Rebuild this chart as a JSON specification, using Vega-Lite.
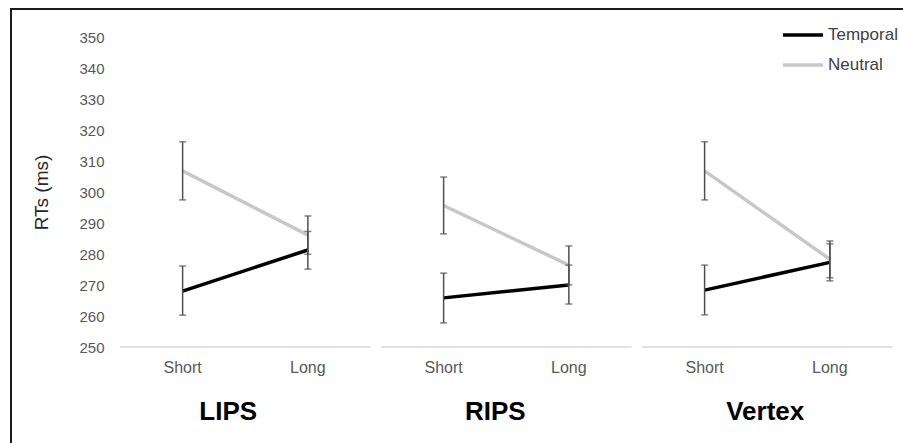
{
  "$schema": "https://vega.github.io/schema/vega-lite/v6.json",
  "autosize": "none",
  "padding": {"left": 11, "top": 9, "right": -2, "bottom": -2},
  "width": 894,
  "height": 436,
  "config": {
    "font": "Liberation Sans",
    "view": {"stroke": "#1a1a1a", "strokeWidth": 2}
  },
  "data": {
    "values": [
      {"site": "LIPS", "interval": "Short", "condition": "Temporal", "rt": 268.1, "lo": 260.3, "hi": 276.2},
      {"site": "LIPS", "interval": "Short", "condition": "Neutral", "rt": 307.0, "lo": 297.6, "hi": 316.4},
      {"site": "LIPS", "interval": "Long", "condition": "Temporal", "rt": 281.4, "lo": 275.2, "hi": 287.4},
      {"site": "LIPS", "interval": "Long", "condition": "Neutral", "rt": 286.2, "lo": 280.0, "hi": 292.4},
      {"site": "RIPS", "interval": "Short", "condition": "Temporal", "rt": 265.9, "lo": 257.8, "hi": 273.9},
      {"site": "RIPS", "interval": "Short", "condition": "Neutral", "rt": 295.8, "lo": 286.6, "hi": 305.0},
      {"site": "RIPS", "interval": "Long", "condition": "Temporal", "rt": 270.1, "lo": 263.9, "hi": 276.5},
      {"site": "RIPS", "interval": "Long", "condition": "Neutral", "rt": 276.5, "lo": 270.1, "hi": 282.7},
      {"site": "Vertex", "interval": "Short", "condition": "Temporal", "rt": 268.4, "lo": 260.4, "hi": 276.5},
      {"site": "Vertex", "interval": "Short", "condition": "Neutral", "rt": 307.0, "lo": 297.6, "hi": 316.4},
      {"site": "Vertex", "interval": "Long", "condition": "Temporal", "rt": 277.4, "lo": 271.4, "hi": 283.4},
      {"site": "Vertex", "interval": "Long", "condition": "Neutral", "rt": 278.4, "lo": 272.4, "hi": 284.3}
    ]
  },
  "encoding": {
    "x": {
      "field": "site",
      "type": "nominal",
      "scale": {"domain": ["LIPS", "RIPS", "Vertex"], "paddingInner": 0.0402, "paddingOuter": 0.23275, "align": 0.8971, "round": false},
      "axis": {
        "title": null,
        "domain": false,
        "ticks": false,
        "tickSize": 0,
        "offset": -98,
        "labelPadding": 64.7,
        "labelBaseline": "middle",
        "labelAngle": 0,
        "labelFontSize": 26,
        "labelFontWeight": "bold",
        "labelColor": "#000000",
        "labelOffset": {"condition": [{"test": "datum.value == 'LIPS'", "value": -17}, {"test": "datum.value == 'RIPS'", "value": -11}], "value": -2}
      }
    }
  },
  "layer": [
    {
      "transform": [{"filter": "datum.condition == 'Temporal' && datum.interval == 'Short'"}],
      "mark": {"type": "tick", "orient": "horizontal", "size": 250.5, "thickness": 2, "color": "#d4d4d4"},
      "encoding": {
        "y": {"datum": 250, "type": "quantitative"}
      }
    },
    {
      "mark": {"type": "line", "strokeWidth": 3.5},
      "encoding": {
        "xOffset": {"field": "interval", "type": "nominal", "scale": {"domain": ["Short", "Long"], "paddingInner": 0, "paddingOuter": 0}},
        "y": {
          "field": "rt",
          "type": "quantitative",
          "scale": {"domain": [218.285, 359.385], "zero": false, "nice": false},
          "axis": {
            "title": "RTs (ms)",
            "titleFontSize": 19,
            "titleFontWeight": "normal",
            "titleColor": "#262626",
            "titlePadding": 27,
            "titleY": 183,
            "values": [250, 260, 270, 280, 290, 300, 310, 320, 330, 340, 350],
            "grid": false,
            "domain": false,
            "ticks": false,
            "tickSize": 0,
            "offset": -95,
            "labelPadding": 2,
            "labelFontSize": 15,
            "labelColor": "#595959"
          }
        },
        "color": {
          "field": "condition",
          "type": "nominal",
          "scale": {"domain": ["Temporal", "Neutral"], "range": ["#000000", "#c8c8c8"]},
          "legend": {
            "title": null,
            "orient": "none",
            "legendX": 770,
            "legendY": 4,
            "padding": 0,
            "symbolType": "stroke",
            "symbolSize": 1600,
            "symbolStrokeWidth": 3.5,
            "labelFontSize": 17,
            "labelColor": "#404040",
            "labelOffset": 3,
            "rowPadding": -10
          }
        },
        "detail": {"field": "site", "type": "nominal"}
      }
    },
    {
      "mark": {"type": "rule", "strokeWidth": 1.5, "color": "#505050"},
      "encoding": {
        "xOffset": {"field": "interval", "type": "nominal"},
        "y": {"field": "lo", "type": "quantitative"},
        "y2": {"field": "hi"}
      }
    },
    {
      "mark": {"type": "tick", "orient": "horizontal", "size": 7, "thickness": 1.5, "color": "#505050"},
      "encoding": {
        "xOffset": {"field": "interval", "type": "nominal"},
        "y": {"field": "lo", "type": "quantitative"}
      }
    },
    {
      "mark": {"type": "tick", "orient": "horizontal", "size": 7, "thickness": 1.5, "color": "#505050"},
      "encoding": {
        "xOffset": {"field": "interval", "type": "nominal"},
        "y": {"field": "hi", "type": "quantitative"}
      }
    },
    {
      "transform": [{"filter": "datum.condition == 'Temporal'"}],
      "mark": {"type": "text", "dy": 21, "fontSize": 16, "color": "#595959", "baseline": "middle"},
      "encoding": {
        "xOffset": {"field": "interval", "type": "nominal"},
        "y": {"datum": 250, "type": "quantitative"},
        "text": {"field": "interval", "type": "nominal"}
      }
    }
  ]
}
